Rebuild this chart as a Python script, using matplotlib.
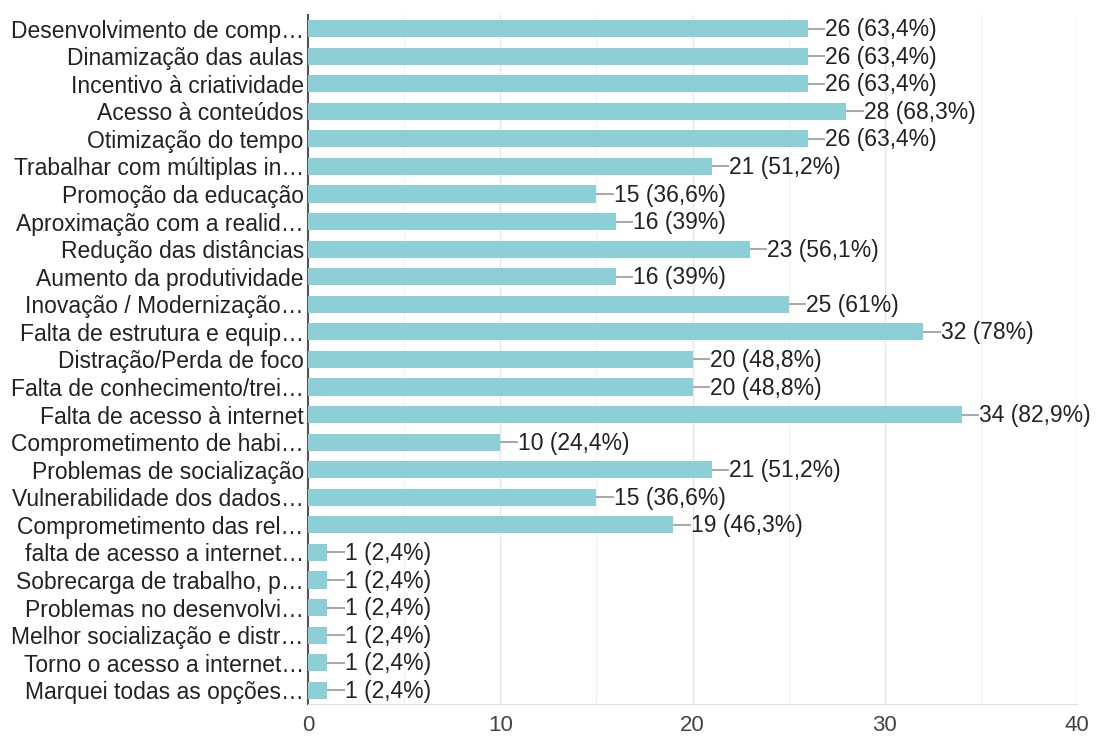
import matplotlib
matplotlib.use("Agg")
import matplotlib.pyplot as plt
import numpy as np

categories = [
    "Desenvolvimento de comp…",
    "Dinamização das aulas",
    "Incentivo à criatividade",
    "Acesso à conteúdos",
    "Otimização do tempo",
    "Trabalhar com múltiplas in…",
    "Promoção da educação",
    "Aproximação com a realid…",
    "Redução das distâncias",
    "Aumento da produtividade",
    "Inovação / Modernização…",
    "Falta de estrutura e equip…",
    "Distração/Perda de foco",
    "Falta de conhecimento/trei…",
    "Falta de acesso à internet",
    "Comprometimento de habi…",
    "Problemas de socialização",
    "Vulnerabilidade dos dados…",
    "Comprometimento das rel…",
    "falta de acesso a internet…",
    "Sobrecarga de trabalho, p…",
    "Problemas no desenvolvi…",
    "Melhor socialização e distr…",
    "Torno o acesso a internet…",
    "Marquei todas as opções…",
]
counts = [26, 26, 26, 28, 26, 21, 15, 16, 23, 16, 25, 32, 20, 20, 34, 10, 21, 15, 19, 1, 1, 1, 1, 1, 1]
percents = ["63,4", "63,4", "63,4", "68,3", "63,4", "51,2", "36,6", "39", "56,1", "39", "61", "78",
            "48,8", "48,8", "82,9", "24,4", "51,2", "36,6", "46,3", "2,4", "2,4", "2,4", "2,4", "2,4", "2,4"]
xticks = [0, 10, 20, 30, 40]

plt.rcParams['font.family'] = ['Liberation Sans', 'DejaVu Sans']

fig = plt.figure(figsize=(10.96, 7.38), dpi=100)
ax = fig.add_axes([0.281, 0.046, 0.9827 - 0.281, 0.934])

y = np.arange(len(categories))
ax.barh(y, counts, height=0.62, color='#8ccfd7', zorder=3)

for yi, c, p in zip(y, counts, percents):
    ax.plot([c, c + 0.9], [yi, yi], color='#aaaaaa', lw=1.5, zorder=3, solid_capstyle='butt')
    ax.text(c + 0.9, yi + 0.04, f"{c} ({p}%)", va='center', ha='left', fontsize=16.5, color='#222222', zorder=4)

ax.set_xlim(0, 40)
ax.set_ylim(len(categories) - 0.5, -0.5)
ax.set_yticks(y)
ax.set_yticklabels(categories, fontsize=16.5, color='#222222')
ax.set_xticks(xticks)
ax.set_xticklabels([str(t) for t in xticks], fontsize=16, color='#444444')
ax.set_xticks([5, 15, 25, 35], minor=True)
ax.grid(axis='x', which='major', color='#e6e6e6', lw=1, zorder=0)
ax.grid(axis='x', which='minor', color='#f3f3f3', lw=1, zorder=0)
ax.tick_params(axis='both', which='both', length=0)
ax.tick_params(axis='y', pad=3)
ax.tick_params(axis='x', pad=8)
for s in ['top', 'right']:
    ax.spines[s].set_visible(False)
ax.spines['left'].set_color('#555555')
ax.spines['left'].set_linewidth(1.5)
ax.spines['bottom'].set_color('#dddddd')

fig.savefig("out.png", dpi=100)
